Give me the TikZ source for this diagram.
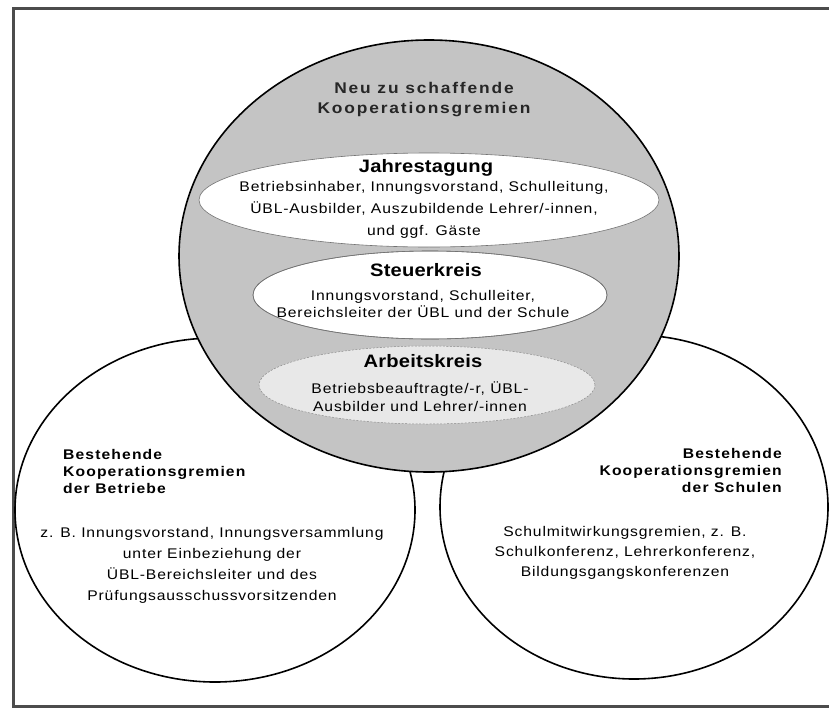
\documentclass[tikz,border=0pt]{standalone}
\usepackage{fontspec}
\setmainfont{Liberation Sans}[FakeStretch=1.12]
\newfontfamily\regf{Liberation Sans}[FakeStretch=1.12,LetterSpace=6]
\newfontfamily\topf{Liberation Sans}[FakeStretch=1.12,LetterSpace=12]
\newfontfamily\titf{Liberation Sans}[FakeStretch=1.12,LetterSpace=1]
\newfontfamily\sidef{Liberation Sans}[FakeStretch=1.12,LetterSpace=8]
\begin{document}
\begin{tikzpicture}[x=1pt,y=-1pt,
  ring/.style={draw=black,line width=1.6pt},
  lens/.style={draw=black!55,line width=0.6pt},
  txt/.style={inner sep=0pt,align=center},
  regtxt/.style={txt,font=\regf\fontsize{14}{#1}\selectfont},
  tittxt/.style={txt,font=\titf\bfseries\fontsize{18}{20}\selectfont},
  sidetxt/.style={txt,font=\sidef\bfseries\fontsize{14}{17}\selectfont}
 ]
\useasboundingbox (0,0) rectangle (829,709);
\fill[white] (0,0) rectangle (829,709);
\draw[black!70,line width=3pt] (835,9) -- (13,9) -- (13,706) -- (835,706);
% lower circles
\draw[ring,fill=white] (215,510) ellipse [x radius=200pt, y radius=172pt];
\draw[ring,fill=white] (634,507) ellipse [x radius=194pt, y radius=172pt];
% top circle
\draw[ring,fill=black!23] (429,256) ellipse [x radius=250pt, y radius=216pt];
% inner ellipses
\draw[draw=black!45,line width=0.5pt,dash pattern=on 2pt off 1.5pt,fill=black!9] (427,385) ellipse [x radius=168pt, y radius=39pt];
\draw[lens,fill=white] (430,295) ellipse [x radius=177pt, y radius=44pt];
\draw[lens,fill=white] (429,200) ellipse [x radius=230pt, y radius=47pt];
\draw[lens] (430,295) ellipse [x radius=177pt, y radius=44pt];
% texts
\node[txt,font=\topf\bfseries\fontsize{15.5}{20}\selectfont,text=black!85] (neu) at (424,100) {Neu zu schaffende\\Kooperationsgremien};
\node[tittxt] (jt) at (426,168) {Jahrestagung};
\node[regtxt=22] (jtb) at (424,210) {Betriebsinhaber, Innungsvorstand, Schulleitung,\\ÜBL-Ausbilder, Auszubildende Lehrer/-innen,\\und ggf. Gäste};
\node[tittxt] (sk) at (426,270) {Steuerkreis};
\node[regtxt=16.5] (skb) at (423,304) {Innungsvorstand, Schulleiter,\\Bereichsleiter der ÜBL und der Schule};
\node[tittxt] (ak) at (423,361) {Arbeitskreis};
\node[regtxt=18] (akb) at (420,397) {Betriebsbeauftragte/-r, ÜBL-\\Ausbilder und Lehrer/-innen};
\node[sidetxt,align=left,anchor=west] (lh) at (63,471) {Bestehende\\Kooperationsgremien\\der Betriebe};
\node[regtxt=21] (lb) at (212,565) {z. B. Innungsvorstand, Innungsversammlung\\unter Einbeziehung der\\ÜBL-Bereichsleiter und des\\Prüfungsausschussvorsitzenden};
\node[sidetxt,align=right,anchor=east] (rh) at (782,470) {Bestehende\\Kooperationsgremien\\der Schulen};
\node[regtxt=20] (rb) at (625,553) {Schulmitwirkungsgremien, z. B.\\Schulkonferenz, Lehrerkonferenz,\\Bildungsgangskonferenzen};
\end{tikzpicture}
\end{document}
